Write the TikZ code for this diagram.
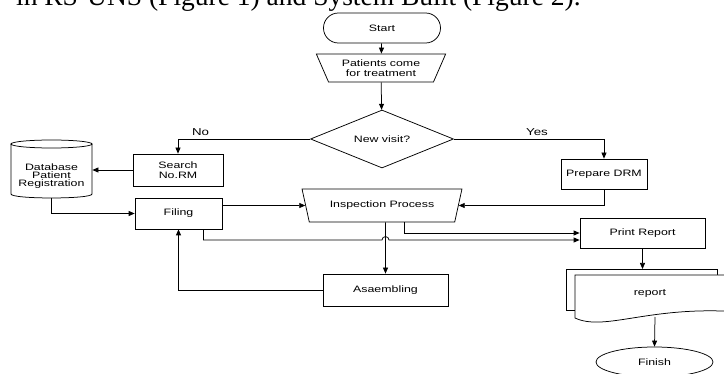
\documentclass[tikz,border=0pt]{standalone}
\usepackage{fontspec}
\setmainfont{Liberation Serif}
\newfontfamily\chartfont[FakeStretch=1.33]{Liberation Sans}
\usetikzlibrary{arrows.meta,shapes.geometric}

\begin{document}
\begin{tikzpicture}[x=1pt,y=-1pt,
  line width=0.75pt,
  every node/.style={font=\chartfont\fontsize{9.3}{9.3}\selectfont, align=center, inner sep=0pt},
  arr/.style={-{Triangle[length=6pt,width=5pt]}},
  procbox/.style={draw, rectangle, minimum width=#1, minimum height=30pt},
  terminal/.style={draw, rectangle, rounded corners=14.9pt, minimum width=117pt, minimum height=30pt},
  endterminal/.style={draw, ellipse, minimum width=117pt, minimum height=30pt},
  manual/.style={draw, trapezium, trapezium stretches=true, shape border rotate=180},
  flowlabel/.style={font=\chartfont\fontsize{10}{10}\selectfont}
]
\useasboundingbox (0,0) rectangle (724,374);
\clip (0,0) rectangle (724,374);

% running text line above the chart
\node[font=\fontsize{27.5}{27.5}\selectfont, anchor=base east] (caption) at (581,6)
  {in RS-UNS (Figure 1) and System Built (Figure 2).};

% main column
\node[terminal] (start) at (382,28) {Start};
\node[manual, minimum width=130pt, minimum height=28pt, trapezium angle=62] (patients) at (381,68)
  {Patients come\\[1pt]for treatment};
\node[draw, diamond, aspect=2.5, minimum width=143pt, minimum height=58pt] (visit) at (382,139) {New visit?};

% left branch
\node[procbox=90pt, minimum height=32pt] (search) at (178,170) {Search\\[1pt]No.RM};
\node[procbox=87pt, minimum height=31pt] (filing) at (178.5,213.5) {Filing};

% patient database (cylinder)
\node[minimum width=81pt, minimum height=58pt] (db) at (51.5,169) {};
\draw (11,144) -- (11,194) .. controls (11,199.3) and (92,199.3) .. (92,194) -- (92,144);
\draw (51.5,144) ellipse [x radius=40.5pt, y radius=4pt];
\node (dbtext) at (51.5,176.5) {Database\\[-1.3pt]Patient\\[-1.3pt]Registration};

% right branch
\node[procbox=86pt] (prepare) at (604,174) {Prepare DRM};
\node[manual, minimum width=160pt, minimum height=33pt, trapezium angle=59] (insp) at (382,205.5)
  {Inspection Process};
\node[procbox=125pt] (print) at (642.5,233) {Print Report};
\node[procbox=125pt, minimum height=32pt] (asm) at (385.5,290) {Asaembling};

% report (multiple documents)
\node[draw, fill=white, minimum width=151pt, minimum height=41pt, anchor=north west] (backdoc) at (566,269) {};
\draw[fill=white] (575,275) -- (740,275) -- (740,312)
  .. controls (650,305) and (605,332) .. (575,318) -- cycle;
\node (report) at (650,293) {report};
\coordinate (repbot) at (655,317);

\node[endterminal] (finish) at (654.5,362) {Finish};

% connectors
\draw[arr] (start) -- (patients);
\draw[arr] (patients) -- (visit);
\draw[arr] (visit.west) -| (search.north);
\node[flowlabel] (no) at (200.5,132) {No};
\draw[arr] (visit.east) -| (prepare.north);
\node[flowlabel] (yes) at (537,132) {Yes};
\draw[arr] (search.west) -- (search.west -| db.east);
\draw[arr] (db.south) |- (filing.west);
\draw[arr] (filing.east |- insp.west) -- (insp.west);
\draw[arr] (prepare.south) |- (insp.east);
\draw[arr] ([xshift=22pt]insp.south) |- (print.west);
\coordinate (jumpA) at (382,240);
\coordinate (jumpB) at (389,240);
\coordinate (print2) at ([yshift=-7pt]print.west);
\draw[arr] ([xshift=-19pt]filing.south east) |- (jumpA)
  .. controls (382,235.5) and (389,235.5) .. (jumpB) -- (print2);
\draw[arr] ([xshift=3.5pt]insp.south) -- (asm.north);
\draw[arr] (asm.west) -| (filing.south);
\draw[arr] (print.south) -- (print.south |- backdoc.north);
\draw[arr] (repbot) -- (finish.north);
\end{tikzpicture}
\end{document}
